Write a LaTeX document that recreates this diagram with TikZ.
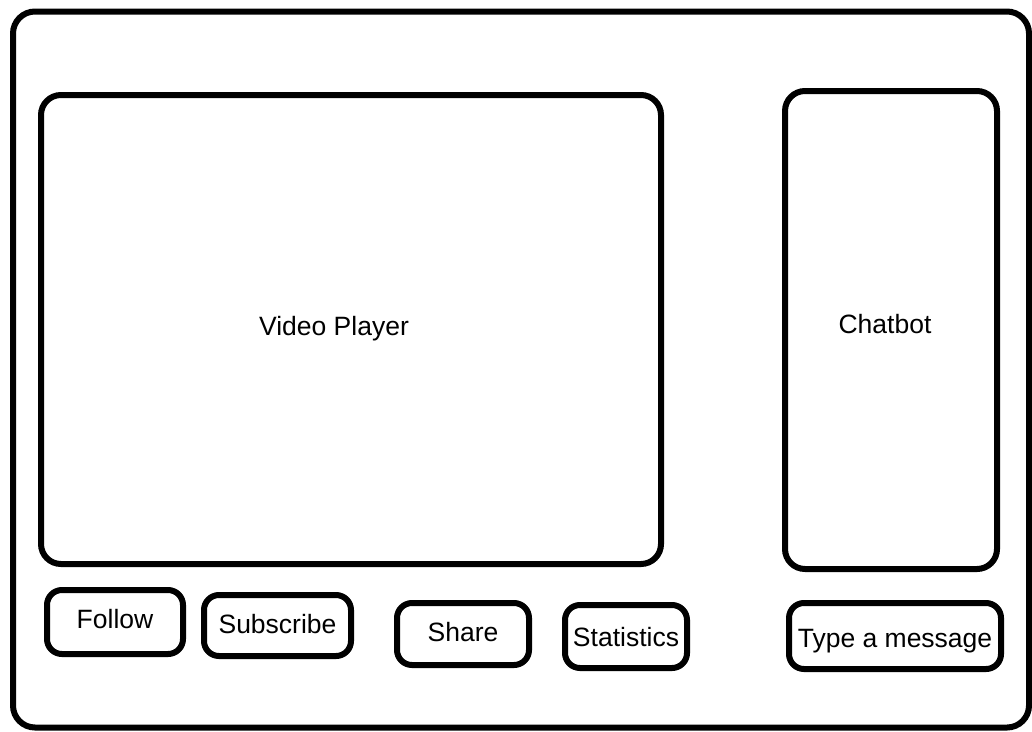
\documentclass[tikz,border=0pt]{standalone}
\usepackage{fontspec}
\setmainfont{Liberation Sans}
\usepackage{tikz}
\usetikzlibrary{positioning,calc}

\tikzset{
  panel/.style={draw=black, line width=6pt, rounded corners=20pt, inner sep=0pt},
  button/.style={draw=black, line width=6pt, rounded corners=15pt, inner sep=0pt,
    text height=15pt, text depth=0pt},
  caption/.style={font=\uifont, anchor=base}
}
\newcommand{\uifont}{\fontsize{26.5}{30}\selectfont}

\begin{document}
\begin{tikzpicture}[x=1pt,y=-1pt,font=\uifont]
        \useasboundingbox (0,0) rectangle (1032,731);

        % Outer frame
        \draw[line width=6pt, rounded corners=22pt] (13,11.5) rectangle (1029,727.5);

        % Video player and chat panel
        \node[panel, minimum width=620pt, minimum height=469pt] (player) at (351,329.5) {};
        \node[caption] (playertext) at (334,335) {Video Player};

        \node[panel, minimum width=212pt, minimum height=478pt] (chat) at (891,330) {};
        \node[caption] (chattext) at (885,333) {Chatbot};

        % Buttons below the player
        \node[button, minimum width=136pt, minimum height=64pt, text height=13pt] (follow) at (115,622) {Follow};
        \node[button, minimum width=147pt, minimum height=61pt] (subscribe) at (277.5,625.5) {Subscribe};
        \node[button, minimum width=132pt, minimum height=62pt] (share) at (463,634) {Share};
        \node[button, minimum width=122pt, minimum height=63pt, text height=19pt] (stats) at (626,636.5) {Statistics};

        % Message field
        \node[button, minimum width=212pt, minimum height=66pt, text height=23pt] (message) at (895,636) {Type a message};

    \end{tikzpicture}
\end{document}
